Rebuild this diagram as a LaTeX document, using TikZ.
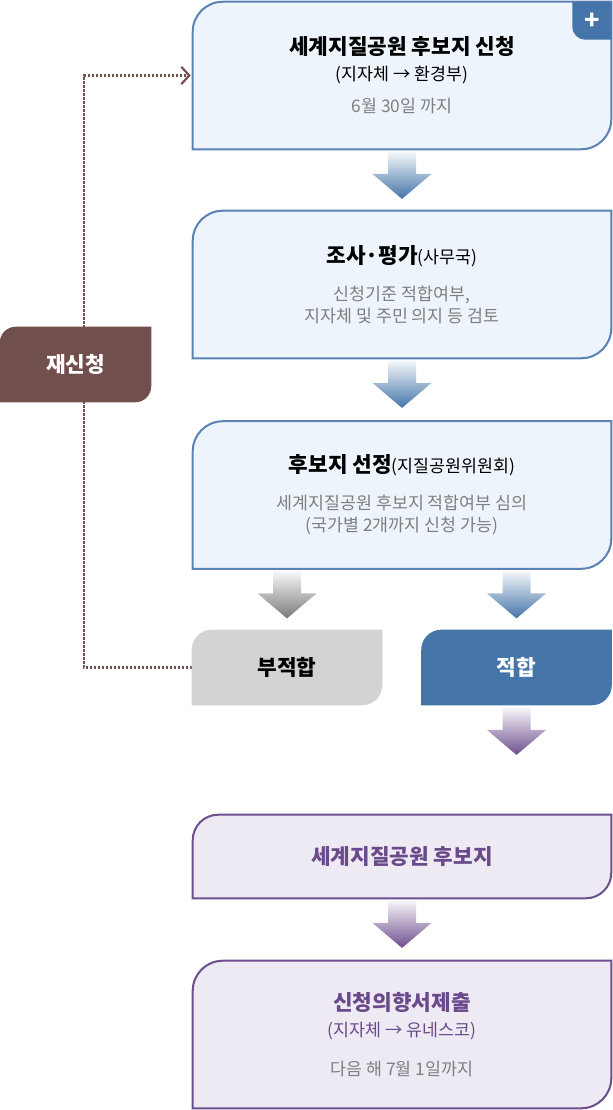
\documentclass[tikz,border=0pt]{standalone}
\usepackage{fontspec}
\setmainfont{Noto Sans CJK KR}
\usetikzlibrary{arrows.meta}

\definecolor{boxblue}{HTML}{EEF4FC}
\definecolor{lineblue}{HTML}{5A82B4}
\definecolor{okblue}{HTML}{4474A8}
\definecolor{failgray}{HTML}{D3D3D3}
\definecolor{rebrown}{HTML}{714F4C}
\definecolor{boxpurple}{HTML}{EEEAF3}
\definecolor{linepurple}{HTML}{6D4E8E}
\definecolor{textpurple}{HTML}{6A4A8B}
\definecolor{textgray}{HTML}{7F7F7F}
\definecolor{arrowgray}{HTML}{7A7A7A}

\pgfdeclarelayer{back}
\pgfdeclarelayer{bg}
\pgfsetlayers{back,bg,main}

\tikzset{
    box/.style={minimum width=313.5pt, minimum height=110.25pt, inner sep=0pt,
        align=center, font=\fontsize{13}{16.5}\selectfont},
    smallbox/.style={minimum width=142.5pt, minimum height=56.25pt, inner sep=0pt,
        font=\bfseries\fontsize{16}{16}\selectfont},
    title/.style={font=\bfseries\fontsize{16}{19.5}\selectfont},
    blueshape/.style={fill=boxblue, draw=lineblue, line width=1.5pt},
    purpleshape/.style={fill=boxpurple, draw=linepurple, line width=1.5pt},
    recall/.style={draw=rebrown, line width=1.6pt, dash pattern=on 1.6pt off 1.4pt,
        -{Straight Barb[length=6pt, width=13pt, line width=1.6pt]}},
    pics/fatarrow/.style={code={
        \path[top color=#1!6, bottom color=#1]
            (-14,0) -- (14,0) -- (14,22) -- (29.5,22) -- (0,47)
            -- (-29.5,22) -- (-14,22) -- cycle;
    }}
}

% box with round top-left and bottom-right corners
\newcommand\tabshape[3]{%
    \path[#2] (#1.south west) -- ([yshift=-#3]#1.north west)
        arc[start angle=180, end angle=90, radius=#3] -- (#1.north east)
        -- ([yshift=#3]#1.south east)
        arc[start angle=0, end angle=-90, radius=#3] -- cycle;}

\begin{document}
\begin{tikzpicture}[x=0.75pt, y=-0.75pt]
    \useasboundingbox (0,0) rectangle (612,1110);

    \node[box, font=\fontsize{13}{19.5}\selectfont] (apply) at (402,75.5)
        {{\bfseries\fontsize{16}{19.5}\selectfont 세계지질공원 후보지 신청}\\
         (지자체 → 환경부)\\[4.5pt]
         {\color{textgray}6월 30일 까지}};
    \node[box] (review) at (402,284.5)
        {{\bfseries\fontsize{16}{19.5}\selectfont 조사·평가}(사무국)\\[11pt]
         \color{textgray}신청기준 적합여부,\\
         \color{textgray}지자체 및 주민 의지 등 검토};
    \node[box] (select) at (402,495)
        {{\bfseries\fontsize{16}{19.5}\selectfont 후보지 선정}(지질공원위원회)\\[11pt]
         \color{textgray}세계지질공원 후보지 적합여부 심의\\
         \color{textgray}(국가별 2개까지 신청 가능)};
    \node[smallbox] (fail) at (287,667.5) {부적합};
    \node[smallbox, text=white] (pass) at (516.5,667.5) {적합};
    \node[box, minimum height=62.25pt, title, text=textpurple] (cand) at (402,856.5)
        {세계지질공원 후보지};
    \node[box, font=\fontsize{13}{19.5}\selectfont] (submit) at (402,1034.5)
        {\color{textpurple}{\bfseries\fontsize{16}{19.5}\selectfont 신청의향서제출}\\
         \color{textpurple}(지자체 → 유네스코)\\[9.75pt]
         {\color{textgray}다음 해 7월 1일까지}};
    \node[smallbox, minimum width=113.25pt, text=white] (reapply) at (75.5,364.5) {재신청};
    \node[text=white, inner sep=0pt, font=\bfseries\fontsize{19}{19}\selectfont]
        (plus) at ([shift={(-14.6pt,-14.6pt)}]apply.north east) {+};

    \begin{pgfonlayer}{bg}
        \tabshape{apply}{blueshape}{22.5pt}
        \tabshape{review}{blueshape}{22.5pt}
        \tabshape{select}{blueshape}{22.5pt}
        \tabshape{fail}{fill=failgray}{15pt}
        \tabshape{pass}{fill=okblue}{15pt}
        \tabshape{cand}{purpleshape}{19pt}
        \tabshape{submit}{purpleshape}{22.5pt}
        \tabshape{reapply}{fill=rebrown}{12pt}
        \path[fill=okblue] ([xshift=-29.25pt]apply.north east) -- (apply.north east)
            -- ([yshift=-28.5pt]apply.north east)
            -- ([shift={(-19.5pt,-28.5pt)}]apply.north east)
            arc[start angle=270, end angle=180, radius=9.75pt] -- cycle;
    \end{pgfonlayer}

    \begin{pgfonlayer}{back}
        \draw[recall] (fail.west) -- ++(-108,0) |- ([xshift=-1.5pt]apply.west);
    \end{pgfonlayer}

    \pic at ([yshift=-2pt]apply.south) {fatarrow=okblue};
    \pic at ([yshift=-2pt]review.south) {fatarrow=okblue};
    \pic[yshift=-2pt] at (fail.north |- select.south) {fatarrow=arrowgray};
    \pic[yshift=-2pt] at (pass.north |- select.south) {fatarrow=okblue};
    \pic at ([yshift=-2pt]pass.south) {fatarrow=linepurple};
    \pic at ([yshift=-2pt]cand.south) {fatarrow=linepurple};
\end{tikzpicture}
\end{document}
